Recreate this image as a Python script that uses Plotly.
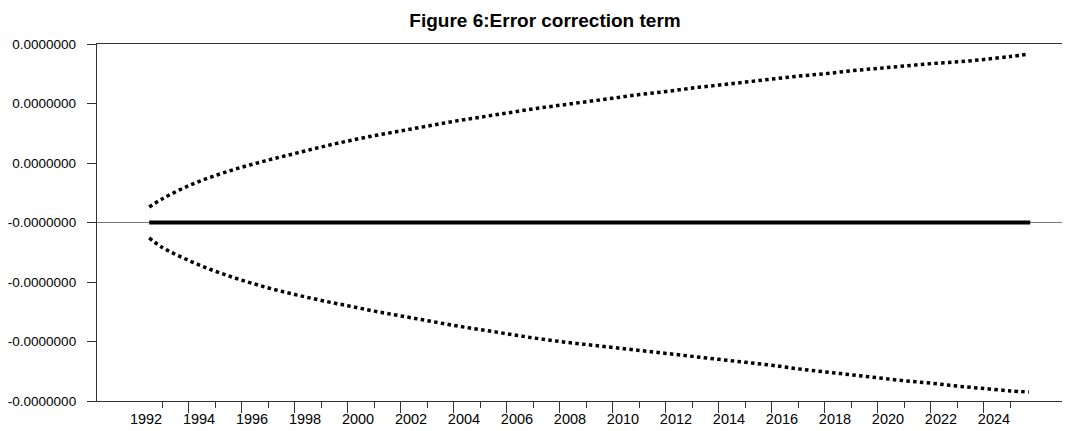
import plotly.graph_objects as go

# ---- data ----
years = [1992.5, 1993, 1994, 1995, 1996, 1997, 1998, 1999, 2000, 2001, 2002, 2003,
         2004, 2005, 2006, 2007, 2008, 2009, 2010, 2011, 2012, 2013, 2014, 2015,
         2016, 2017, 2018, 2019, 2020, 2021, 2022, 2023, 2024, 2025, 2025.7]
upper = [0.26, 0.40, 0.62, 0.79, 0.93, 1.05, 1.16, 1.27, 1.37, 1.46, 1.54, 1.62,
         1.70, 1.77, 1.84, 1.91, 1.97, 2.03, 2.09, 2.15, 2.20, 2.26, 2.31, 2.36,
         2.41, 2.46, 2.50, 2.55, 2.59, 2.63, 2.67, 2.70, 2.74, 2.79, 2.83]
lower = [-0.26, -0.42, -0.64, -0.82, -0.97, -1.10, -1.21, -1.31, -1.40, -1.49, -1.57, -1.65,
         -1.73, -1.80, -1.87, -1.94, -2.00, -2.05, -2.10, -2.15, -2.20, -2.25, -2.30, -2.35,
         -2.40, -2.46, -2.51, -2.56, -2.61, -2.66, -2.70, -2.75, -2.79, -2.83, -2.85]
ect_years = [1992.5, 2025.75]
ect = [0.0, 0.0]

y_tickvals = [-3, -2, -1, 0, 1, 2, 3]
y_ticktext = ["-0.0000000", "-0.0000000", "-0.0000000", "-0.0000000",
              "0.0000000", "0.0000000", "0.0000000"]
label_years = list(range(1992, 2025, 2))
label_text = [str(y) for y in label_years]
long_ticks = list(range(1994, 2025, 2))
short_ticks = list(range(1993, 2026, 2))

FONT = "Liberation Sans, Arial, sans-serif"
AX = "#333333"
XR = [1990.53, 2027.25]
LABEL_OFFSET = 0.38

fig = go.Figure()
fig.add_trace(go.Scatter(x=years, y=upper, mode="lines", line_shape="spline",
                         line=dict(color="black", width=3.5, dash="3.5px,3.3px"),
                         showlegend=False, hoverinfo="skip"))
fig.add_trace(go.Scatter(x=years, y=lower, mode="lines", line_shape="spline",
                         line=dict(color="black", width=3.5, dash="3.5px,3.3px"),
                         showlegend=False, hoverinfo="skip"))
fig.add_trace(go.Scatter(x=ect_years, y=ect, mode="lines",
                         line=dict(color="black", width=4),
                         showlegend=False, hoverinfo="skip"))
# invisible trace to carry the label axis
fig.add_trace(go.Scatter(x=[y + LABEL_OFFSET for y in label_years],
                         y=[None] * len(label_years), xaxis="x2", yaxis="y",
                         mode="lines", showlegend=False, hoverinfo="skip"))

fig.update_layout(
    width=1062, height=423,
    margin=dict(l=89, r=0, t=36, b=30, autoexpand=False),
    paper_bgcolor="white", plot_bgcolor="white",
    font=dict(family=FONT, size=14, color="black"),
    title=dict(text="<b>Figure 6:Error correction term</b>",
               font=dict(family=FONT, size=19, color="black"),
               xref="container", x=537 / 1062, xanchor="center",
               yref="container", y=1 - 12 / 423, yanchor="middle"),
    xaxis=dict(range=XR, showgrid=False, zeroline=False, automargin=False,
               showline=True, linecolor=AX, linewidth=1.3, mirror=True,
               tickmode="array", tickvals=long_ticks, showticklabels=False,
               ticks="outside", ticklen=11, tickwidth=1, tickcolor=AX,
               minor=dict(tickmode="array", tickvals=short_ticks, ticks="outside",
                          ticklen=6, tickwidth=1, tickcolor=AX, showgrid=False)),
    xaxis2=dict(range=XR, overlaying="x", anchor="y", side="bottom",
                showgrid=False, zeroline=False, showline=False, automargin=False,
                tickmode="array",
                tickvals=[y + LABEL_OFFSET for y in label_years],
                ticktext=label_text, ticks="", ticklabelstandoff=7,
                tickfont=dict(family=FONT, size=14.5, color="black")),
    yaxis=dict(range=[-3, 3], showgrid=False, automargin=False,
               zeroline=True, zerolinecolor="#777777", zerolinewidth=1,
               showline=True, linecolor=AX, linewidth=1.3,
               tickmode="array", tickvals=y_tickvals, ticktext=y_ticktext,
               ticks="outside", ticklen=9, tickwidth=1, tickcolor=AX,
               ticklabelstandoff=8,
               tickfont=dict(family=FONT, size=13.5, color="black")),
)

fig.write_html("out.html")
